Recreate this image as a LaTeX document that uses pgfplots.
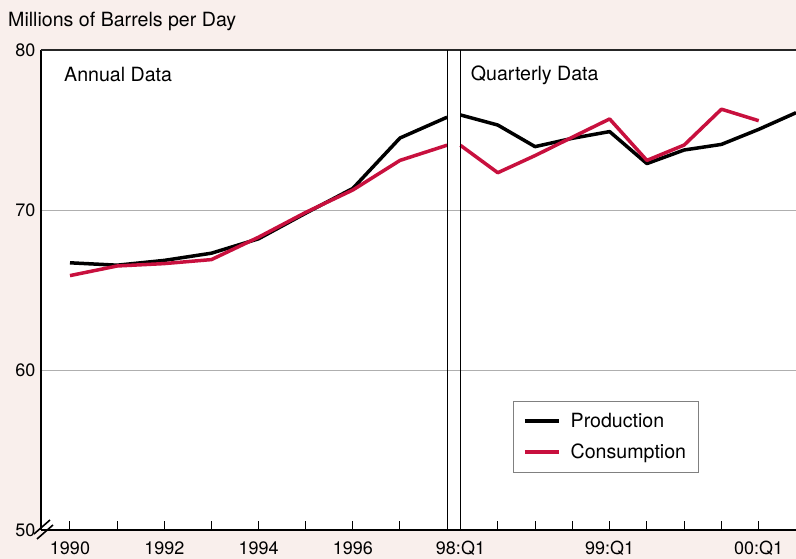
\documentclass[border=0pt]{standalone}
\usepackage{fontspec}
\setmainfont{TeX Gyre Heros}
\usepackage{pgfplots}
\pgfplotsset{compat=1.18}
\definecolor{bgc}{RGB}{249,239,236}
\definecolor{crim}{RGB}{200,16,62}
\definecolor{gridc}{RGB}{175,175,175}
\newcommand{\fs}{\fontsize{18}{21}\selectfont}
\newcommand{\ft}{\fontsize{19.6}{23}\selectfont}
\begin{document}
\begin{tikzpicture}[x=1pt,y=1pt]
\fill[bgc] (0,0) rectangle (796,559);
\pgfplotsset{
 common/.style={
  scale only axis, width=755pt, height=480pt,
  at={(41pt,29pt)}, anchor=south west,
  ymin=50, ymax=80,
  /pgf/number format/assume math mode=true,
  tick label style={font=\fs},
  xtick align=inside, major tick length=9pt,
  xtick style={black, line width=1pt},
  xticklabel style={yshift=-8pt},
  axis x line*=bottom,
  x axis line style={line width=1.6pt,-},
 },
 prod/.style={black, line width=3.5pt, line join=round, no marks},
 cons/.style={crim, line width=3.5pt, line join=round, no marks},
}
\begin{axis}[common,
  xmin=1989.385, xmax=2005.40,
  axis y line*=left,
  y axis line style={line width=2.6pt,-},
  axis background/.style={fill=white},
  ytick={50,60,70,80},
  ytick style={draw=none},
  yticklabel style={xshift=-2pt},
  ymajorgrids, grid style={gridc, line width=0.9pt},
  xtick={1990,...,1997},
  xticklabels={1990,,1992,,1994,,1996,},
  legend style={at={(0.625,0.269)}, anchor=north west, draw=gray, line width=0.8pt,
    fill=white, font=\ft, inner xsep=10pt, inner ysep=10pt, row sep=11pt},
  legend cell align=left,
  legend image code/.code={\draw[#1, line width=3.4pt, line cap=butt] (0pt,0pt) -- (34pt,0pt);},
]
\addplot[prod] coordinates {(1990,66.7)(1991,66.55)(1992,66.85)(1993,67.3)(1994,68.2)(1995,69.8)(1996,71.35)(1997,74.5)(1998,75.8)};
\addlegendentry{\hspace{8pt}Production}
\addplot[cons] coordinates {(1990,65.9)(1991,66.5)(1992,66.65)(1993,66.9)(1994,68.3)(1995,69.85)(1996,71.25)(1997,73.1)(1998,74.05)};
\addlegendentry{\hspace{8pt}Consumption}
\draw[black!85, line width=1.6pt] (rel axis cs:0,1) -- (rel axis cs:1,1);
\draw[black, line width=1pt] (axis cs:1998,50) -- (axis cs:1998,80);
\end{axis}
\begin{axis}[common,
  xmin=-11.253, xmax=9,
  axis y line=none, ytick=\empty,
  xtick={0,...,8},
  xticklabels={98:Q1,,,,99:Q1,,,,00:Q1},
]
\addplot[prod] coordinates {(0,75.94)(1,75.31)(2,73.96)(3,74.48)(4,74.9)(5,72.9)(6,73.75)(7,74.1)(8,75.04)(9,76.08)};
\addplot[cons] coordinates {(0,74.04)(1,72.33)(2,73.4)(3,74.55)(4,75.69)(5,73.1)(6,74.06)(7,76.3)(8,75.58)};
\draw[black, line width=1pt] (axis cs:0,50) -- (axis cs:0,80);
\end{axis}
\node[anchor=base west, font=\ft, inner sep=0pt] at (8,532) {Millions of Barrels per Day};
\node[anchor=base west, font=\ft, inner sep=0pt] at (64,477.3) {Annual Data};
\node[anchor=base west, font=\ft, inner sep=0pt] at (470.7,478.3) {Quarterly Data};
\draw[black, line width=1.6pt] (34,25) -- (50,39);
\draw[black, line width=1.6pt] (37,20) -- (53,34);
\pgfresetboundingbox
\path[use as bounding box] (0,0) rectangle (796,559);
\end{tikzpicture}
\end{document}
